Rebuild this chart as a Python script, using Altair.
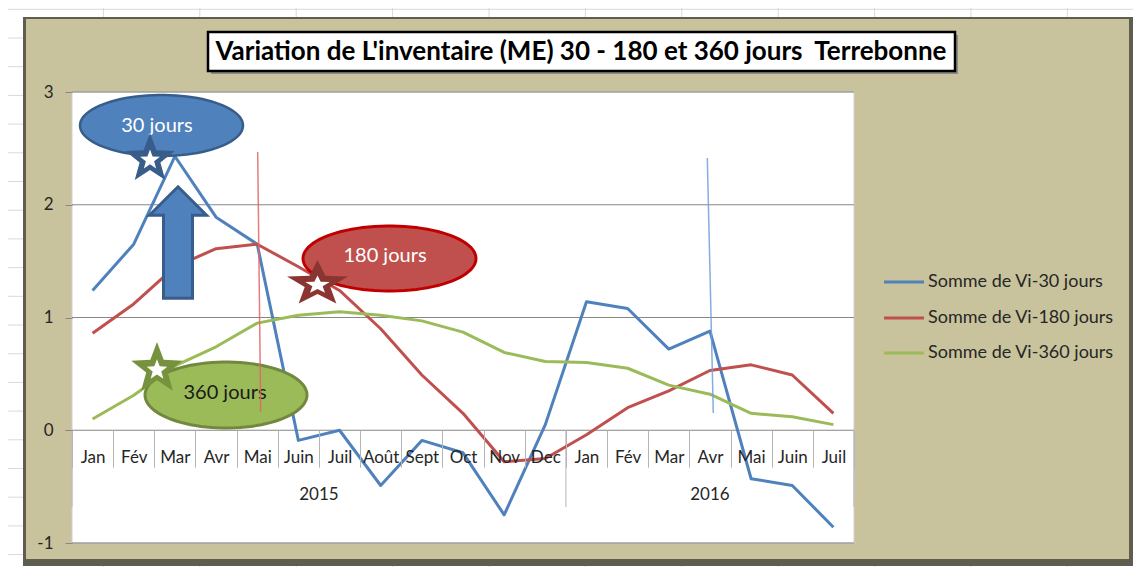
import math
import altair as alt
import pandas as pd

# ---------------- data ----------------
months = ["Jan", "Fév", "Mar", "Avr", "Mai", "Juin", "Juil", "Août", "Sept", "Oct", "Nov", "Dec",
          "Jan", "Fév", "Mar", "Avr", "Mai", "Juin", "Juil"]
years = ["2015"] * 12 + ["2016"] * 7
vi30 = [1.24, 1.65, 2.43, 1.89, 1.65, -0.09, 0.0, -0.49, -0.09, -0.20, -0.75, 0.05,
        1.14, 1.08, 0.72, 0.88, -0.43, -0.49, -0.86]
vi180 = [0.86, 1.12, 1.45, 1.61, 1.65, 1.45, 1.24, 0.90, 0.49, 0.15, -0.28, -0.25,
         -0.04, 0.20, 0.35, 0.53, 0.58, 0.49, 0.15]
vi360 = [0.10, 0.31, 0.57, 0.74, 0.95, 1.02, 1.05, 1.02, 0.97, 0.87, 0.69, 0.61,
         0.60, 0.55, 0.40, 0.32, 0.15, 0.12, 0.05]
series_names = ["Somme de Vi-30 jours", "Somme de Vi-180 jours", "Somme de Vi-360 jours"]
series_colors = ["#4F81BD", "#C0504D", "#9BBB59"]
y_ticks = [-1, 0, 1, 2, 3]
year_labels = ["2015", "2016"]
annot_labels = ["30 jours", "180 jours", "360 jours"]
title_text = "Variation de L'inventaire (ME) 30 - 180 et 360 jours\u00a0 Terrebonne"

keys = [f"{m}|{y}" for m, y in zip(months, years)]

# ---------------- layout ----------------
W, H = 782, 451
OX, OY = 72, 92          # page position of plot origin
FONT = "Lato"
TXT = "#262626"


def px(x):
    return x - OX


def py(y):
    return y - OY


one = pd.DataFrame({"k": [0]})

x_scale = alt.Scale(type="band", domain=keys, paddingInner=0, paddingOuter=0)
y_scale = alt.Scale(domain=[-1, 3], nice=False, zero=False)
x_axis = alt.Axis(title=None, orient="bottom", offset=-112.75, domain=False, ticks=True,
                  tickBand="extent", tickSize=37, tickColor="#b5b5b5", tickWidth=1,
                  labelExpr="split(datum.label, '|')[0]", labelFont=FONT, labelFontSize=17,
                  labelColor=TXT, labelBaseline="middle", labelPadding=-10, labelAngle=0,
                  labelOverlap=False, labelBound=False, labelFlush=False, grid=False, zindex=1)
y_axis = alt.Axis(title=None, values=y_ticks, grid=False, domain=False, tickSize=7,
                  tickColor="#878787", labelPadding=12, labelFont=FONT, labelFontSize=17,
                  labelColor=TXT, labelFlush=False, labelExpr="'' + datum.value", zindex=1)


def X(bp=0.5):
    return alt.X("key:N", scale=x_scale, axis=x_axis, bandPosition=bp)


def Y():
    return alt.Y("value:Q", scale=y_scale, axis=y_axis)


def rect(x, x2, y, y2, **kw):
    return alt.Chart(one).mark_rect(**kw).encode(
        x=alt.value(x), x2=alt.value(x2), y=alt.value(y), y2=alt.value(y2))


def rule(x, y, x2, y2, **kw):
    return alt.Chart(one).mark_rule(**kw).encode(
        x=alt.value(x), y=alt.value(y), x2=alt.value(x2), y2=alt.value(y2))


def shape(path, size, x, y, fill, stroke=None, sw=0):
    kw = dict(shape=path, size=size, filled=True, opacity=1, fill=fill, color=fill)
    if stroke:
        kw.update(stroke=stroke, strokeWidth=sw)
    else:
        kw.update(strokeWidth=0)
    return alt.Chart(one).mark_point(**kw).encode(x=alt.value(x), y=alt.value(y))


def text(s, x, y, **kw):
    return alt.Chart(one).mark_text(text=s, font=FONT, **kw).encode(x=alt.value(x), y=alt.value(y))


def ellipse_path(ratio, n=90):
    pts = [(math.cos(2 * math.pi * i / n), ratio * math.sin(2 * math.pi * i / n)) for i in range(n)]
    return "M" + " L".join(f"{a:.4f},{b:.4f}" for a, b in pts) + " Z"


def star_path(xs=1.0, ys=1.0, inner=0.42):
    pts = []
    for k in range(10):
        ang = -math.pi / 2 + k * math.pi / 5
        r = 1.0 if k % 2 == 0 else inner
        pts.append((r * math.cos(ang) * xs, r * math.sin(ang) * ys))
    return "M" + " L".join(f"{a:.4f},{b:.4f}" for a, b in pts) + " Z"


layers = []

# spreadsheet grid behind the chart frame
for k in range(11):
    gx = px(103.4 + 96.4 * k)
    layers.append(rule(gx, py(8), gx, py(567), color="#d9d9d9", strokeWidth=1))
for k in range(20):
    gy = py(9.3 + 28.7 * k)
    layers.append(rule(px(8), gy, px(1133), gy, color="#d9d9d9", strokeWidth=1))

# chart frame
layers.append(rect(px(23), px(1133), py(17), py(566), color="#5e5d50"))
layers.append(rect(px(26), px(1129), py(19), py(559), color="#C8C39C"))
# plot area
layers.append(rect(0, W, 0, H, color="white", stroke="#d0d0d0", strokeWidth=1))

# gridlines
grid_df = pd.DataFrame({"value": y_ticks})
layers.append(alt.Chart(grid_df).mark_rule(color="#878787", strokeWidth=1).encode(
    y=Y(), x=alt.value(0), x2=alt.value(W)))

# long separators (year groups)
sep_df = pd.DataFrame({"key": [keys[0], keys[12]], "value": [0, 0]})
sep_end = pd.DataFrame({"key": [keys[-1]], "value": [0]})
layers.append(alt.Chart(sep_df).mark_rule(color="#b5b5b5", strokeWidth=1).encode(
    x=X(0), y=alt.value(py(430)), y2=alt.value(py(507))))
layers.append(alt.Chart(sep_end).mark_rule(color="#b5b5b5", strokeWidth=1).encode(
    x=X(1), y=alt.value(py(430)), y2=alt.value(py(507))))

# data lines
for name, vals, col in zip(series_names, [vi30, vi180, vi360], series_colors):
    d = pd.DataFrame({"key": keys, "value": vals, "series": name})
    layers.append(alt.Chart(d).mark_line(strokeWidth=3, color=col, strokeJoin="round").encode(
        x=X(), y=Y()))

# annotation ellipses
layers.append(shape(ellipse_path(30.5 / 81.5), (2 * 81.5) ** 2, px(161.5), py(125.5),
                    "#4F81BD", "#385D8A", 2.5))
layers.append(text(annot_labels[0], px(157), py(126), fontSize=20, color="white",
                   align="center", baseline="middle"))
layers.append(shape(ellipse_path(32.5 / 86.5), (2 * 86.5) ** 2, px(389.5), py(258.5),
                    "#C0504D", "#C00000", 3))
layers.append(text(annot_labels[1], px(385), py(256), fontSize=20, color="white",
                   align="center", baseline="middle"))
layers.append(shape(ellipse_path(33 / 81), (2 * 81) ** 2, px(226), py(395),
                    "#9BBB59", "#71893F", 3))
layers.append(text(annot_labels[2], px(225), py(393), fontSize=20, color="#1a1a1a",
                   align="center", baseline="middle"))

# stars
layers.append(shape(star_path(), (2 * 26) ** 2, px(150), py(159), "#385D8A"))
layers.append(shape(star_path(), (2 * 26 * 0.4) ** 2, px(150), py(160), "white"))
layers.append(shape(star_path(1.0, 0.75), (2 * 32) ** 2, px(317.5), py(284), "#8B3533"))
layers.append(shape(star_path(1.0, 0.75), (2 * 32 * 0.4) ** 2, px(317.5), py(285), "white"))
layers.append(shape(star_path(), (2 * 27) ** 2, px(157), py(369), "#76923C"))
layers.append(shape(star_path(), (2 * 27 * 0.4) ** 2, px(157), py(370), "white"))

# up arrow
arrow = ("M0,-0.995 L0.509,-0.488 L0.259,-0.488 L0.259,0.995 L-0.259,0.995 "
         "L-0.259,-0.488 L-0.509,-0.488 Z")
layers.append(shape(arrow, (2 * 56) ** 2, px(178), py(242.5), "#4F81BD", "#385D8A", 3))

# thin vertical markers
layers.append(rule(px(257.7), py(152), px(260.7), py(412), color="#E06666", strokeWidth=1.5, opacity=0.85))
layers.append(rule(px(707.3), py(158), px(713.3), py(413), color="#6FA0DC", strokeWidth=1.5, opacity=0.85))

# title box
layers.append(rect(px(211), px(958), py(35), py(74), color="#8a8a8a"))
layers.append(rect(px(208), px(955), py(32), py(71), color="white", stroke="black", strokeWidth=2.5))
layers.append(text(title_text, px(581), py(52), fontSize=26, fontWeight="bold", color="black",
                   align="center", baseline="middle"))

# legend
for i, (name, col) in enumerate(zip(series_names, series_colors)):
    ly = [282, 318, 353][i]
    layers.append(rule(px(884), py(ly), px(924), py(ly), color=col, strokeWidth=3))
    layers.append(text(name, px(928), py(ly), fontSize=18, color=TXT, align="left", baseline="middle"))

# year labels
layers.append(alt.Chart(pd.DataFrame({"key": [keys[6]], "value": [0]})).mark_text(
    text=year_labels[0], font=FONT, fontSize=17, color=TXT, baseline="middle").encode(
    x=X(0), y=alt.value(py(495))))
layers.append(alt.Chart(pd.DataFrame({"key": [keys[15]], "value": [0]})).mark_text(
    text=year_labels[1], font=FONT, fontSize=17, color=TXT, baseline="middle").encode(
    x=X(0.5), y=alt.value(py(495))))

chart = alt.layer(*layers, data=one).properties(
    width=W, height=H,
    padding={"left": OX - 8, "top": OY - 8, "right": 1125 - (OX - 8) - W, "bottom": 559 - (OY - 8) - H},
    autosize=alt.AutoSizeParams(type="none"),
).configure(background="white").configure_view(stroke=None, fill=None)

chart.save("out.html", embed_options={"renderer": "svg", "actions": False})
